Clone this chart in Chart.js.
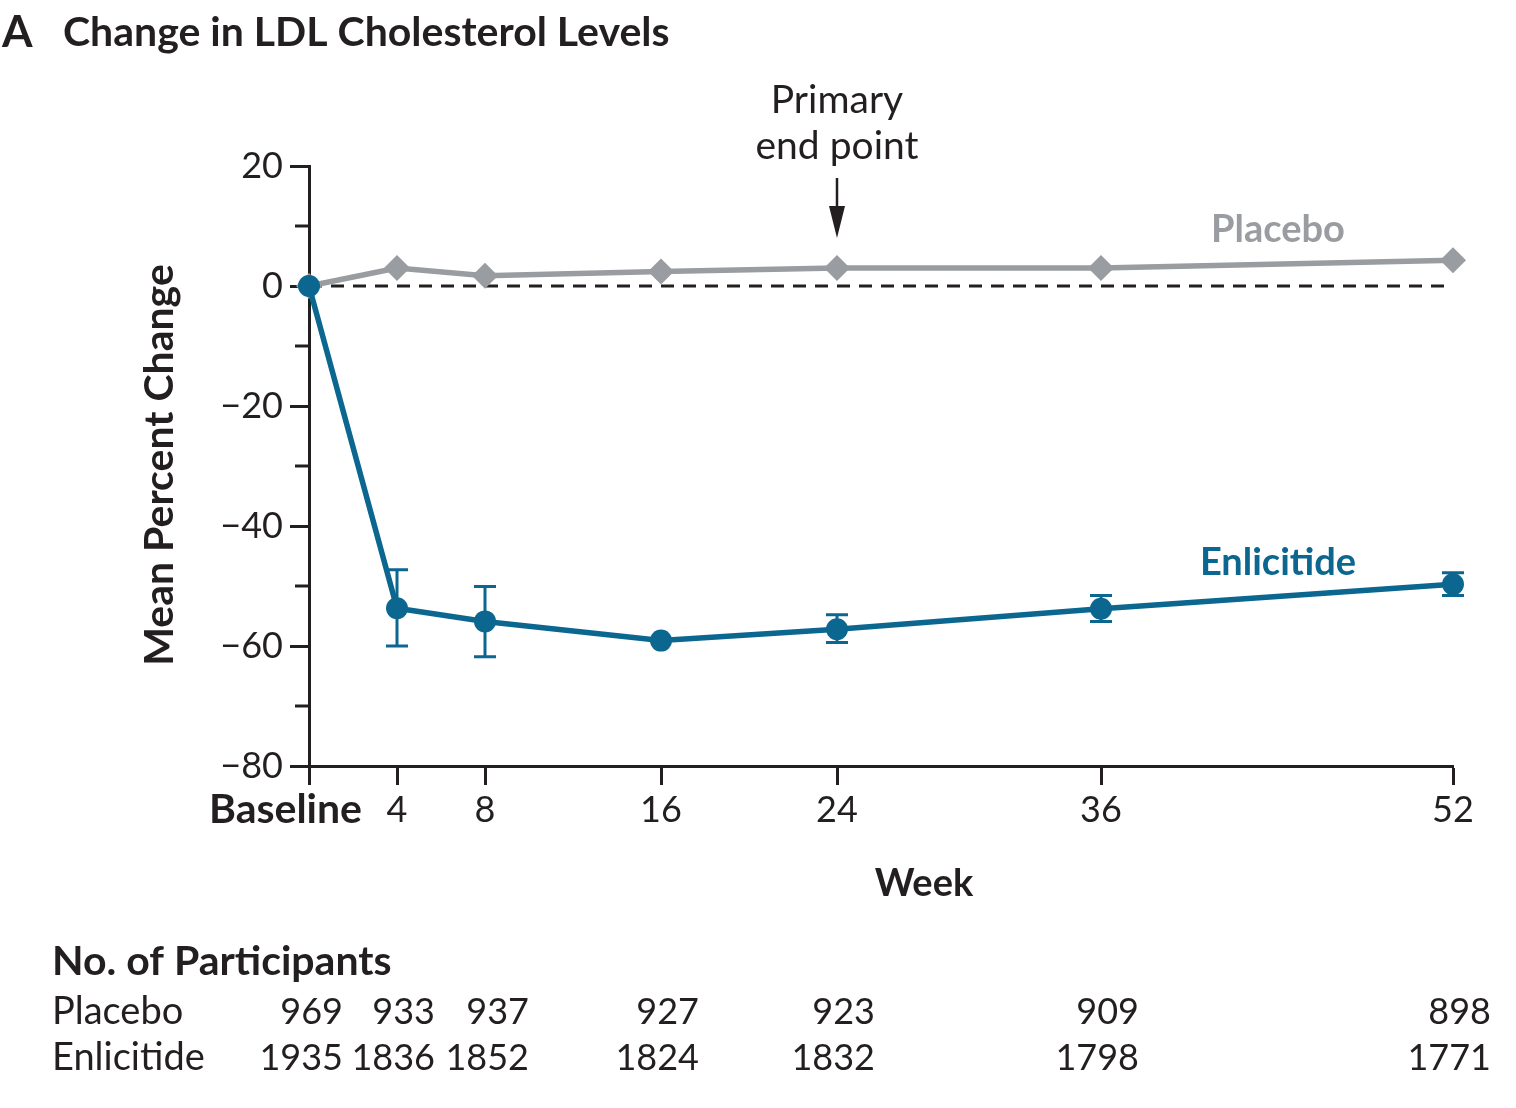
<!DOCTYPE html>
<html>
<head>
<meta charset="UTF-8">
<title>Change in LDL Cholesterol Levels</title>
<script src="https://cdn.jsdelivr.net/npm/chart.js@4.4.1/dist/chart.umd.min.js"></script>
<style>
    body { margin: 0; background: #fff; }
    #wrap { width: 1516px; height: 1108px; }
</style>
</head>
<body>
<div id="wrap"><canvas id="grafico" width="1516" height="1108"></canvas></div>
<script>
// dados
var weeks = [0, 4, 8, 16, 24, 36, 52];
var weekLabels = ["Baseline", "4", "8", "16", "24", "36", "52"];
var placebo = [0, 3.0, 1.7, 2.4, 3.0, 3.0, 4.3];
var enlicitide = [0, -53.7, -55.9, -59.1, -57.2, -53.8, -49.7];
var enlicitideLow = [null, -60.0, -61.8, null, -59.4, -55.9, -51.6];
var enlicitideHigh = [null, -47.3, -50.1, null, -54.8, -51.6, -47.8];
var nPlacebo = [969, 933, 937, 927, 923, 909, 898];
var nEnlicitide = [1935, 1836, 1852, 1824, 1832, 1798, 1771];
var yMin = -80, yMax = 20, yStep = 10, yLabelStep = 20;

var AZUL = "#0b6790";
var CINZA = "#999ca0";
var TEXTO = "#231f20";
var FONTE = "Lato, 'Open Sans', sans-serif";

function pontos(valores) {
    return weeks.map(function (w, i) { return { x: w, y: valores[i] }; });
}
function menos(v) {
    return v < 0 ? "\u2212" + Math.abs(v) : String(v);
}

// barras de erro (IC) desenhadas antes dos marcadores
var barrasErro = {
    id: "barrasErro",
    beforeDatasetsDraw: function (chart) {
        var ctx = chart.ctx, xs = chart.scales.x, ys = chart.scales.y;
        ctx.save();
        ctx.strokeStyle = AZUL;
        ctx.lineWidth = 3;
        for (var i = 0; i < weeks.length; i++) {
            if (enlicitideLow[i] === null) continue;
            var x = xs.getPixelForValue(weeks[i]);
            var y1 = ys.getPixelForValue(enlicitideLow[i]);
            var y2 = ys.getPixelForValue(enlicitideHigh[i]);
            ctx.beginPath();
            ctx.moveTo(x, y1); ctx.lineTo(x, y2);
            ctx.moveTo(x - 11, y1); ctx.lineTo(x + 11, y1);
            ctx.moveTo(x - 11, y2); ctx.lineTo(x + 11, y2);
            ctx.stroke();
        }
        ctx.restore();
    }
};

// textos, rótulos do eixo x, marcas menores e tabela
var textos = {
    id: "textos",
    afterDraw: function (chart) {
        var ctx = chart.ctx, xs = chart.scales.x, ys = chart.scales.y;
        var left = chart.chartArea.left;
        ctx.save();
        ctx.fillStyle = TEXTO;
        ctx.textBaseline = "middle";

        // marcas menores do eixo y
        ctx.strokeStyle = TEXTO;
        ctx.lineWidth = 3;
        for (var v = yMin; v <= yMax; v += yStep) {
            if (v % yLabelStep === 0) continue;
            var yy = ys.getPixelForValue(v);
            ctx.beginPath();
            ctx.moveTo(left - 14, yy); ctx.lineTo(left, yy);
            ctx.stroke();
        }

        // título
        ctx.textAlign = "left";
        ctx.font = "bold 44px " + FONTE;
        ctx.fillText("A", 2, 33);
        ctx.font = "bold 41px " + FONTE;
        ctx.fillText("Change in LDL Cholesterol Levels", 63, 33);

        // anotação do desfecho primário
        var xp = xs.getPixelForValue(24);
        ctx.textAlign = "center";
        ctx.font = "39px " + FONTE;
        ctx.fillText("Primary", xp, 100);
        ctx.fillText("end point", xp, 146);
        ctx.lineWidth = 2.5;
        ctx.beginPath();
        ctx.moveTo(xp, 178); ctx.lineTo(xp, 212);
        ctx.stroke();
        ctx.beginPath();
        ctx.moveTo(xp - 8, 206); ctx.lineTo(xp + 8, 206); ctx.lineTo(xp, 238);
        ctx.closePath();
        ctx.fill();

        // rótulos das séries
        ctx.font = "bold 38px " + FONTE;
        ctx.fillStyle = CINZA;
        ctx.fillText("Placebo", 1278, 230);
        ctx.fillStyle = AZUL;
        ctx.fillText("Enlicitide", 1278, 563);

        // rótulos do eixo x
        ctx.fillStyle = TEXTO;
        for (var i = 0; i < weeks.length; i++) {
            var px = xs.getPixelForValue(weeks[i]);
            if (i === 0) {
                ctx.font = "bold 41px " + FONTE;
                ctx.textAlign = "right";
                ctx.fillText(weekLabels[i], px + 53, 810);
            } else {
                ctx.font = "36px " + FONTE;
                ctx.textAlign = "center";
                ctx.fillText(weekLabels[i], px, 810);
            }
        }
        ctx.font = "bold 38px " + FONTE;
        ctx.textAlign = "center";
        ctx.fillText("Week", 924, 884);

        // título do eixo y
        ctx.save();
        ctx.translate(160, 465);
        ctx.rotate(-Math.PI / 2);
        ctx.font = "bold 41px " + FONTE;
        ctx.fillText("Mean Percent Change", 0, 0);
        ctx.restore();

        // número de participantes
        ctx.textAlign = "left";
        ctx.font = "bold 41px " + FONTE;
        ctx.fillText("No. of Participants", 52, 962);
        ctx.font = "38px " + FONTE;
        ctx.fillText("Placebo", 52, 1012);
        ctx.fillText("Enlicitide", 52, 1058);
        ctx.textAlign = "right";
        ctx.font = "36px " + FONTE;
        for (var j = 0; j < weeks.length; j++) {
            // as três primeiras colunas ficam um pouco afastadas entre si
            var nudge = j === 0 ? -4 : (j === 2 ? 6 : 0);
            var tx = xs.getPixelForValue(weeks[j]) + 38 + nudge;
            ctx.fillText(String(nPlacebo[j]), tx, 1012);
            ctx.fillText(String(nEnlicitide[j]), tx, 1058);
        }
        ctx.restore();
    }
};

var ctxGrafico = document.getElementById("grafico").getContext("2d");
var grafico = new Chart(ctxGrafico, {
    type: "line",
    data: {
        datasets: [
            {
                label: "Enlicitide",
                data: pontos(enlicitide),
                borderColor: AZUL,
                backgroundColor: AZUL,
                borderWidth: 5.5,
                pointStyle: "circle",
                pointRadius: 11,
                pointBorderWidth: 0,
                clip: false,
                order: 0
            },
            {
                label: "Placebo",
                data: pontos(placebo),
                borderColor: CINZA,
                backgroundColor: CINZA,
                borderWidth: 5.5,
                pointStyle: "rectRot",
                pointRadius: 13,
                pointBorderWidth: 0,
                clip: false,
                order: 1
            },
            {
                label: "zero",
                data: [{ x: 0, y: 0 }, { x: 52, y: 0 }],
                borderColor: TEXTO,
                borderWidth: 3,
                borderDash: [13, 9],
                pointRadius: 0,
                order: 2
            }
        ]
    },
    options: {
        responsive: false,
        animation: false,
        devicePixelRatio: 1,
        layout: { padding: { left: 0, top: 166, right: 63, bottom: 322 } },
        plugins: {
            legend: { display: false },
            tooltip: { enabled: false }
        },
        scales: {
            x: {
                type: "linear",
                min: 0,
                max: 52,
                afterBuildTicks: function (scale) {
                    scale.ticks = weeks.map(function (w) { return { value: w }; });
                },
                afterFit: function (scale) { scale.height = 20; },
                ticks: { display: false },
                grid: {
                    drawOnChartArea: false,
                    drawTicks: true,
                    tickLength: 19,
                    tickWidth: 3,
                    tickColor: TEXTO
                },
                border: { display: true, color: TEXTO, width: 3 }
            },
            y: {
                min: yMin,
                max: yMax,
                afterFit: function (scale) { scale.width = 309; },
                ticks: {
                    stepSize: yStep,
                    padding: 7,
                    color: TEXTO,
                    font: { family: FONTE, size: 36 },
                    callback: function (v) { return v % yLabelStep === 0 ? menos(v) : ""; }
                },
                grid: {
                    drawOnChartArea: false,
                    drawTicks: true,
                    tickLength: 19,
                    tickWidth: 3,
                    tickColor: function (c) {
                        return c.tick && c.tick.value % yLabelStep === 0 ? TEXTO : "rgba(0,0,0,0)";
                    }
                },
                border: { display: true, color: TEXTO, width: 3 }
            }
        }
    },
    plugins: [barrasErro, textos]
});
</script>
</body>
</html>
